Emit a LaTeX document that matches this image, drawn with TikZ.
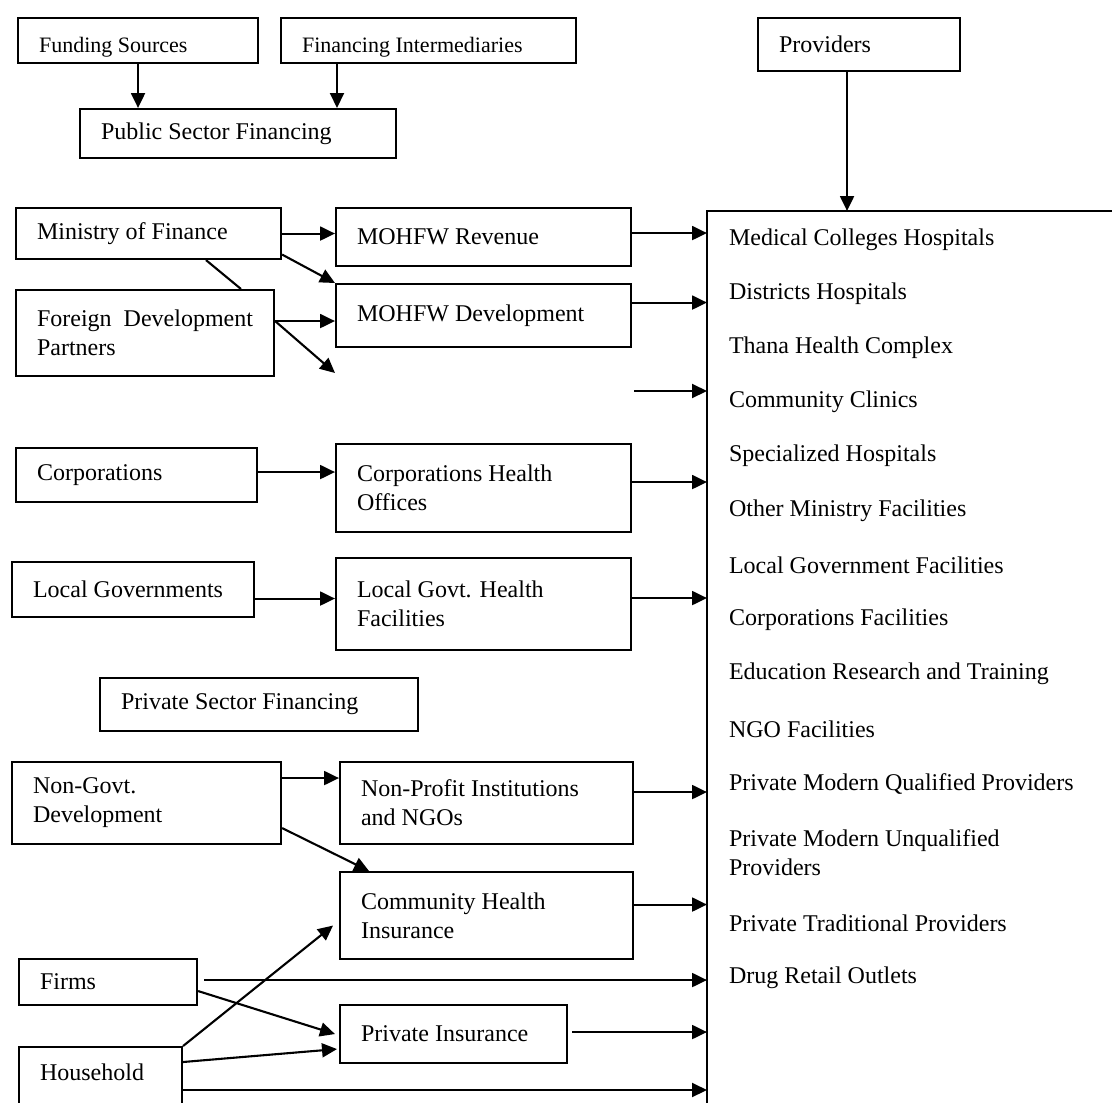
\documentclass[tikz,border=0pt]{standalone}
\usepackage{fontspec}
\setmainfont{Liberation Serif}
\usetikzlibrary{arrows.meta}

\begin{document}
\begin{tikzpicture}[x=1pt, y=-1pt, line width=2.1pt,
  every node/.style={font=\fontsize{24}{29}\selectfont},
  box/.style 2 args={draw, rectangle, anchor=north west, inner xsep=21pt, inner ysep=0pt,
    align=flush left, minimum width=#1pt, minimum height=#2pt, text width=#1pt-42pt},
  small/.style={font=\fontsize{22}{26}\selectfont, text height=34pt, text depth=11pt},
  item/.style={anchor=west, inner sep=0pt, align=flush left},
  arr/.style={-{Triangle[length=15pt,width=14pt]}}]
\useasboundingbox (0,0) rectangle (1112,1103);
%headings
\node[box={240}{45}, small] (fund) at (17,17) {Funding Sources};
\node[box={295}{45}, small] (finint) at (280,17) {Financing Intermediaries};
\node[box={316}{49}] (pubsec) at (79,108) {Public Sector Financing};
\node[box={202}{53}] (prov) at (757,17) {Providers};
\draw[arr] (fund.south) -- (fund.south |- pubsec.north);
\coordinate (fi) at ([xshift=57pt]finint.south west);
\draw[arr] (fi) -- (fi |- pubsec.north);
%providers
\coordinate (pb) at (707,211);
\draw (1112,211) -- (pb) -- (707,1103);
\coordinate (pv) at ([xshift=-12pt]prov.south);
\draw[arr] (pv) -- (pv |- pb);
\foreach \t/\y in {Medical Colleges Hospitals/240, Districts Hospitals/294, Thana Health Complex/348,
  Community Clinics/402, Specialized Hospitals/456, Other Ministry Facilities/511,
  Local Government Facilities/565, Corporations Facilities/620, Education Research and Training/674,
  NGO Facilities/729, Private Modern Qualified Providers/784, {Private Modern Unqualified\\Providers}/853,
  Private Traditional Providers/923, Drug Retail Outlets/978}
  \node[item] (item\y) at (728,\y) {\t};
%public sector
\node[box={265}{51}] (mof) at (15,207) {Ministry of Finance};
\node[box={295}{58}] (rev) at (335,207) {MOHFW Revenue};
\node[box={258}{86}] (fdp) at (15,289) {Foreign\hfill Development\\Partners};
\node[box={295}{63}] (dev) at (335,283) {MOHFW Development};
\node[box={241}{54}] (corp) at (15,447) {Corporations};
\node[box={295}{88}] (cho) at (335,443) {Corporations Health\\Offices};
\node[box={242}{55}] (lg) at (11,561) {Local Governments};
\node[box={295}{92}] (lghf) at (335,557) {Local Govt. Health\\Facilities};
\draw[arr] (mof.east) -- (mof.east -| rev.west);
\draw[arr] ([yshift=-21pt]mof.east) -- (dev.north west);
\draw ([xshift=191pt]mof.south west) -- ([xshift=226pt]fdp.north west);
\coordinate (f1) at ([yshift=12pt]fdp.east);
\draw[arr] (f1) -- (f1 -| dev.west);
\coordinate (f2) at (335,373);
\draw[arr] (f1) -- (f2);
\coordinate (r1) at ([yshift=4pt]rev.east);
\draw[arr] (r1) -- (r1 -| pb);
\coordinate (d1) at ([yshift=13pt]dev.east);
\draw[arr] (d1) -- (d1 -| pb);
\coordinate (c0) at (634,391);
\draw[arr] (c0) -- (c0 -| pb);
\coordinate (k1) at ([yshift=3pt]corp.east);
\draw[arr] (k1) -- (k1 -| cho.west);
\coordinate (k2) at ([yshift=6pt]cho.east);
\draw[arr] (k2) -- (k2 -| pb);
\coordinate (l1) at ([yshift=-9pt]lg.east);
\draw[arr] (l1) -- (l1 -| lghf.west);
\coordinate (l2) at ([yshift=6pt]lghf.east);
\draw[arr] (l2) -- (l2 -| pb);
%private sector
\node[box={318}{53}] (privsec) at (99,677) {Private Sector Financing};
\node[box={269}{82}] (ngd) at (11,761) {Non-Govt.\\Development};
\node[box={293}{82}] (npi) at (339,761) {Non-Profit Institutions\\and NGOs};
\node[box={293}{87}] (chi) at (339,871) {Community Health\\Insurance};
\node[box={178}{46}] (firms) at (18,958) {Firms};
\node[box={227}{58}] (pins) at (339,1004) {Private Insurance};
\node[box={163}{90}, text height=33pt, text depth=57pt] (hh) at (18,1046) {Household};
\coordinate (n1) at ([yshift=25pt]ngd.east);
\draw[arr] (n1) -- (n1 -| npi.west);
\draw[arr] ([yshift=-25pt]ngd.east) -- ([xshift=30pt]chi.north west);
\coordinate (n2) at ([yshift=11pt]npi.east);
\draw[arr] (n2) -- (n2 -| pb);
\coordinate (h1) at ([yshift=11pt]chi.east);
\draw[arr] (h1) -- (h1 -| pb);
\coordinate (g1) at ([xshift=6pt,yshift=2pt]firms.east);
\draw[arr] (g1) -- (g1 -| pb);
\draw[arr] ([yshift=-9pt]firms.east) -- ([xshift=-4pt]pins.west);
\coordinate (s1) at ([xshift=4pt,yshift=2pt]pins.east);
\draw[arr] (s1) -- (s1 -| pb);
\draw[arr] (hh.north east) -- ([xshift=-6pt,yshift=-10pt]chi.west);
\draw[arr] ([yshift=-16pt]hh.north east) -- ([xshift=-2pt,yshift=-15pt]pins.west);
\coordinate (u1) at ([yshift=-44pt]hh.north east);
\draw[arr] (u1) -- (u1 -| pb);
\end{tikzpicture}
\end{document}
